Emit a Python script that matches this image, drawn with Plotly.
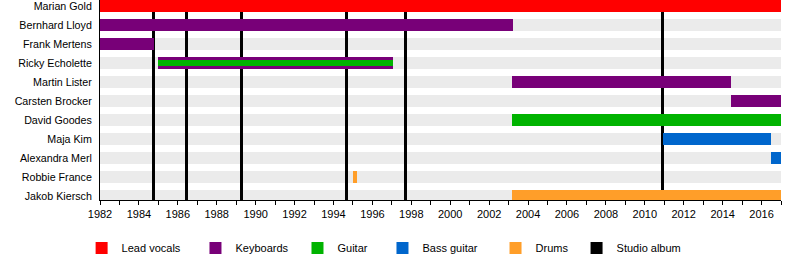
import plotly.graph_objects as go

# ---- data ----
members = ["Marian Gold", "Bernhard Lloyd", "Frank Mertens", "Ricky Echolette",
           "Martin Lister", "Carsten Brocker", "David Goodes", "Maja Kim",
           "Alexandra Merl", "Robbie France", "Jakob Kiersch"]

roles = ["Lead vocals", "Keyboards", "Guitar", "Bass guitar", "Drums"]
role_colors = ["#FF0000", "#780078", "#00B300", "#0066CC", "#FF9E29"]

# spans per role: member, start, end, thin (secondary instrument)
lead_members = ["Marian Gold"]
lead_start = [1982.0]
lead_end = [2017.0]
lead_thin = [False]

keys_members = ["Bernhard Lloyd", "Frank Mertens", "Ricky Echolette", "Martin Lister", "Carsten Brocker"]
keys_start = [1982.0, 1982.0, 1985.0, 2003.18, 2014.42]
keys_end = [2003.23, 1984.78, 1997.08, 2014.42, 2017.0]
keys_thin = [False, False, False, False, False]

guitar_members = ["Ricky Echolette", "David Goodes"]
guitar_start = [1985.0, 2003.18]
guitar_end = [1997.08, 2017.0]
guitar_thin = [True, False]

bass_members = ["Maja Kim", "Alexandra Merl"]
bass_start = [2010.96, 2016.47]
bass_end = [2016.47, 2017.0]
bass_thin = [False, False]

drums_members = ["Robbie France", "Jakob Kiersch"]
drums_start = [1995.0, 2003.18]
drums_end = [1995.21, 2017.0]
drums_thin = [False, False]

album_dates = [1984.75, 1986.44, 1989.26, 1994.66, 1997.70, 2010.91]

timeline_start = 1982
timeline_end = 2017

# ---- styling ----
FONT = "Liberation Sans, Arial, Helvetica, sans-serif"
BAR_W = 0.632
THIN_W = 0.316
row_index = {m: i for i, m in enumerate(members)}

fig = go.Figure()

# background bands (main subplot)
fig.add_trace(go.Bar(
    orientation="h",
    y=list(range(len(members))),
    base=[timeline_start] * len(members),
    x=[timeline_end - timeline_start] * len(members),
    width=BAR_W,
    marker=dict(color="#EBEBEB", line=dict(width=0)),
    showlegend=False, hoverinfo="skip",
    xaxis="x", yaxis="y",
))

# studio album lines (overlay subplot 2)
fig.add_trace(go.Bar(
    orientation="v",
    x=album_dates,
    y=[1] * len(album_dates),
    base=[0] * len(album_dates),
    width=0.155,
    marker=dict(color="#000000", line=dict(width=0)),
    name="Studio album",
    legend="legend6",
    xaxis="x", yaxis="y2",
))

# member bars (overlay subplot 3)
role_data = [
    (lead_members, lead_start, lead_end, lead_thin),
    (keys_members, keys_start, keys_end, keys_thin),
    (guitar_members, guitar_start, guitar_end, guitar_thin),
    (bass_members, bass_start, bass_end, bass_thin),
    (drums_members, drums_start, drums_end, drums_thin),
]
legend_ids = ["legend", "legend2", "legend3", "legend4", "legend5"]
for role, color, (ms, ss, es, th), lg in zip(roles, role_colors, role_data, legend_ids):
    fig.add_trace(go.Bar(
        orientation="h",
        y=[row_index[m] for m in ms],
        base=ss,
        x=[e - s for s, e in zip(ss, es)],
        width=[THIN_W if t else BAR_W for t in th],
        marker=dict(color=color, line=dict(width=0)),
        name=role,
        legend=lg,
        xaxis="x", yaxis="y3",
    ))

yr = [10.21, -0.316]
fig.update_layout(
    width=800, height=265,
    margin=dict(l=100, r=19, t=0, b=65),
    paper_bgcolor="white", plot_bgcolor="white",
    barmode="overlay",
    bargap=0,
    font=dict(family=FONT, size=11, color="#000000"),
    xaxis=dict(
        range=[timeline_start, timeline_end],
        tickmode="linear", tick0=1982, dtick=2,
        ticks="outside", ticklen=4, tickcolor="#000000",
        minor=dict(dtick=1, ticks="outside", ticklen=4, tickcolor="#000000"),
        showline=True, linecolor="#000000", linewidth=1,
        showgrid=False, zeroline=False,
        tickfont=dict(size=11, color="#000000"),
        ticklabeloverflow="allow",
    ),
    yaxis=dict(
        range=yr,
        tickmode="array",
        tickvals=list(range(len(members))),
        ticktext=members,
        showline=True, linecolor="#000000", linewidth=1,
        showgrid=False, zeroline=False,
        ticks="", ticklabelstandoff=5,
        tickfont=dict(size=10.7, color="#000000"),
        ticklabeloverflow="allow",
    ),
    yaxis2=dict(range=[0, 1], overlaying="y", visible=False, fixedrange=True),
    yaxis3=dict(range=yr, overlaying="y", visible=False),
)

leg_x = [-0.027, 0.1402, 0.29, 0.4148, 0.5808, 0.6998]
for i, lx in enumerate(leg_x):
    key = "legend" if i == 0 else f"legend{i+1}"
    fig.update_layout({key: dict(
        x=lx, y=-0.24, xanchor="left", yanchor="middle",
        orientation="h", bgcolor="rgba(0,0,0,0)", borderwidth=0,
        font=dict(family=FONT, size=11, color="#000000"),
        itemwidth=30,
    )})

fig.write_html("out.html")
